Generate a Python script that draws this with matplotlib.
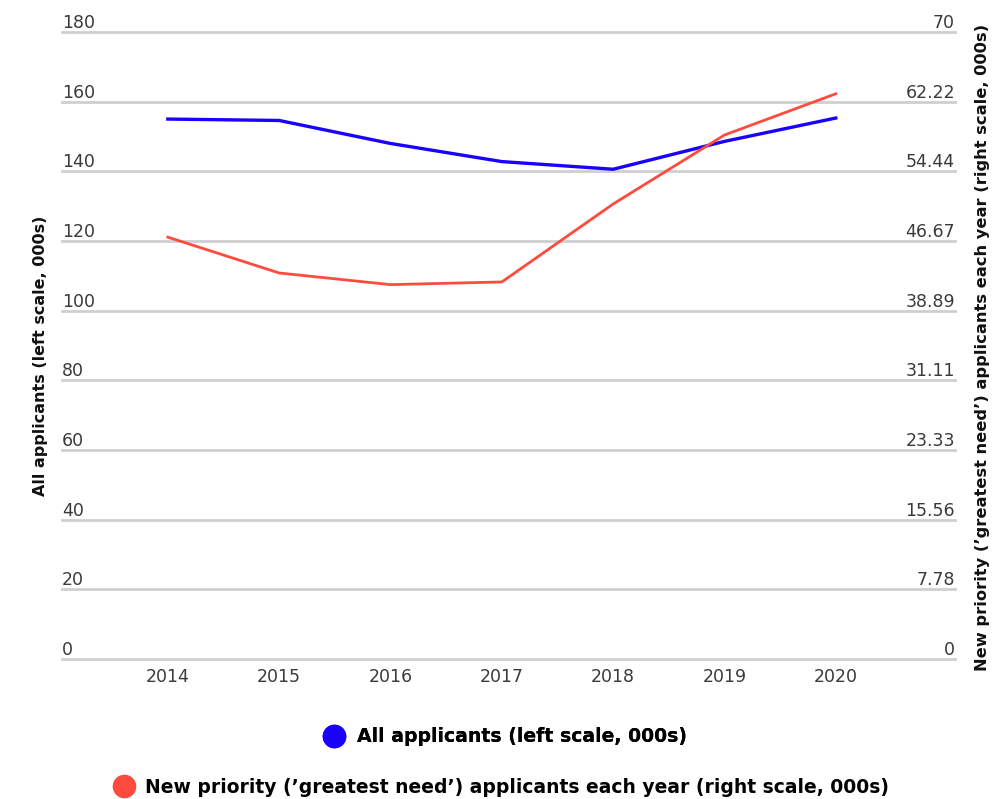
import matplotlib
matplotlib.use("Agg")
import matplotlib.pyplot as plt
from matplotlib.lines import Line2D

years = [2014, 2015, 2016, 2017, 2018, 2019, 2020]
all_applicants = [155.0, 154.6, 148.0, 142.8, 140.6, 148.6, 155.3]
priority_applicants = [47.1, 43.1, 41.8, 42.1, 50.8, 58.5, 63.1]

left_ticks = [0, 20, 40, 60, 80, 100, 120, 140, 160, 180]
right_ticks = [0, 7.78, 15.56, 23.33, 31.11, 38.89, 46.67, 54.44, 62.22, 70]
right_labels = ["0", "7.78", "15.56", "23.33", "31.11", "38.89", "46.67", "54.44", "62.22", "70"]

label_left = "All applicants (left scale, 000s)"
label_right = "New priority (\u2019greatest need\u2019) applicants each year (right scale, 000s)"

BLUE = "#1a00ff"
RED = "#ff4b3e"
GRID = "#cfcfd3"
TXT = "#3a3a3a"

plt.rcParams['font.family'] = ['DejaVu Sans']

fig = plt.figure(figsize=(10.01, 7.99), dpi=100)
ax = fig.add_axes([0.062, 0.175, 0.892, 0.785])
ax2 = ax.twinx()

ax.set_xlim(2013.05, 2021.07)
ax.set_ylim(0, 180)
ax2.set_ylim(0, 70)

for t in left_ticks:
    ax.axhline(t, color=GRID, lw=2, zorder=0, clip_on=False)

ax.plot(years, all_applicants, color=BLUE, lw=2.4, zorder=3)
ax2.plot(years, priority_applicants, color=RED, lw=2.0, zorder=3)

for s in list(ax.spines.values()) + list(ax2.spines.values()):
    s.set_visible(False)
ax.set_yticks([])
ax2.set_yticks([])
ax.set_xticks(years)
ax.set_xticklabels([str(y) for y in years], fontsize=12.5, color=TXT)
ax.tick_params(axis='x', length=0, pad=6)

for t in left_ticks:
    ax.text(0.0, t, str(t), transform=ax.get_yaxis_transform(), ha='left', va='bottom',
            fontsize=12.5, color=TXT)
for t, lab in zip(right_ticks, right_labels):
    ax2.text(1.0, t, lab, transform=ax2.get_yaxis_transform(), ha='right', va='bottom',
             fontsize=12.5, color=TXT)

fig.text(0.040, 0.555, label_left, rotation=90, ha='center', va='center',
         fontsize=11.5, fontweight='bold', color='#111111')
fig.text(0.982, 0.565, label_right, rotation=90, ha='center', va='center',
         fontsize=11.7, fontweight='bold', color='#111111')

h1 = Line2D([], [], marker='o', color='none', markerfacecolor=BLUE, markeredgecolor=BLUE, markersize=16)
h2 = Line2D([], [], marker='o', color='none', markerfacecolor=RED, markeredgecolor=RED, markersize=16)
leg1 = fig.legend([h1], [label_left], loc='center', bbox_to_anchor=(0.505, 0.078), frameon=False,
                  handlelength=1.0, handletextpad=0.7, prop={'size': 13.6, 'weight': 'bold'})
fig.add_artist(leg1)
leg2 = fig.legend([h2], [label_right], loc='center', bbox_to_anchor=(0.501, 0.015), frameon=False,
                  handlelength=1.0, handletextpad=0.6, prop={'size': 13.5, 'weight': 'bold'})

fig.savefig("out.png", dpi=100, facecolor='white')
